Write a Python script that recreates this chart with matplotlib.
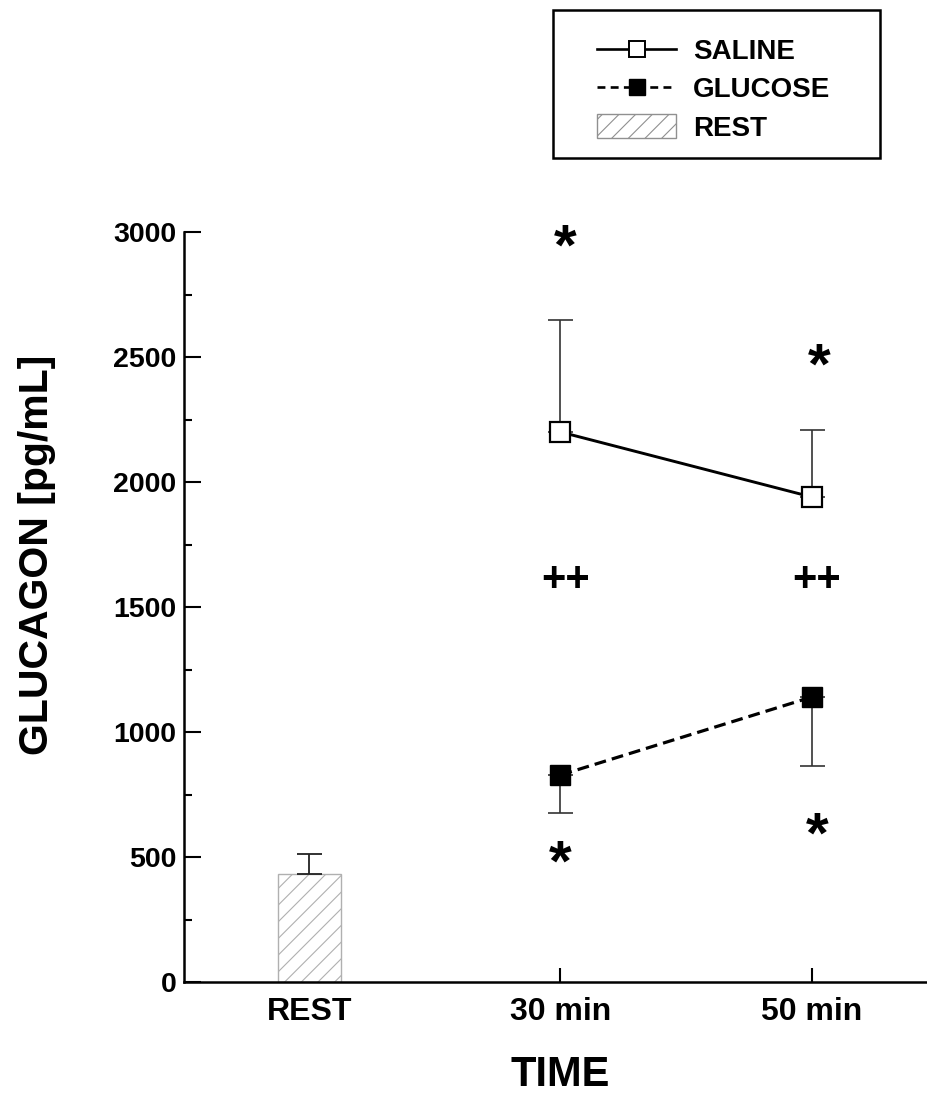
import matplotlib
matplotlib.use("Agg")
import matplotlib.pyplot as plt
from matplotlib.lines import Line2D
from matplotlib.patches import Patch, Rectangle

plt.rcParams["font.family"] = ["Liberation Sans", "DejaVu Sans"]
plt.rcParams["font.weight"] = "bold"
plt.rcParams["hatch.color"] = "#bdbdbd"
plt.rcParams["hatch.linewidth"] = 0.8

# data
time_labels = ["REST", "30 min", "50 min"]
rest_mean = 432
rest_err = 80
saline_mean = [2200, 1940]
saline_err_up = [450, 270]
glucose_mean = [828, 1140]
glucose_err_down = [152, 276]

# significance marks: (x index, y value, text)
marks_x = [1.02, 2.03, 1.02, 2.02, 1.0, 2.02]
marks_y = [2930, 2455, 1610, 1610, 467, 577]
marks_txt = ["*", "*", "++", "++", "*", "*"]

W, H = 927, 1095
fig = plt.figure(figsize=(W / 100, H / 100), dpi=100)
ax = fig.add_axes([183.5 / W, 113 / H, 754 / W, 750 / H])

x_rest = 0
x_ex = [1, 2]

ax.bar(x_rest, rest_mean, width=0.25, color="white", edgecolor="#b0b0b0",
       linewidth=1.0, hatch="//", zorder=2)
ax.errorbar(x_rest, rest_mean, yerr=[[0], [rest_err]], fmt="none",
            ecolor="#222222", elinewidth=1.3, capsize=9, capthick=1.3, zorder=3)

ax.errorbar(x_ex, saline_mean, yerr=[[0, 0], saline_err_up], fmt="none",
            ecolor="#333333", elinewidth=1.2, capsize=9, capthick=1.2, zorder=3)
ax.errorbar(x_ex, glucose_mean, yerr=[glucose_err_down, [0, 0]], fmt="none",
            ecolor="#333333", elinewidth=1.2, capsize=9, capthick=1.2, zorder=3)

ax.plot(x_ex, saline_mean, color="black", linewidth=2.1, marker="s",
        markersize=14, markerfacecolor="white", markeredgecolor="black",
        markeredgewidth=1.6, zorder=4)
ax.plot(x_ex, glucose_mean, color="black", linewidth=2.3,
        linestyle=(0, (3.7, 1.9)), marker="s", markersize=14,
        markerfacecolor="black", markeredgecolor="black", zorder=4)

for mx, my, mt in zip(marks_x, marks_y, marks_txt):
    fs = 42 if mt == "*" else 30
    ax.text(mx, my, mt, ha="center", va="center", fontsize=fs,
            fontweight="bold", zorder=5)

ax.set_xlim(-0.5, 2.5)
ax.set_ylim(0, 3000)
ax.set_yticks([0, 500, 1000, 1500, 2000, 2500, 3000])
ax.set_yticks(range(250, 3000, 500), minor=True)
ax.set_xticks([0, 1, 2])
ax.set_xticklabels(time_labels)

ax.spines["top"].set_visible(False)
ax.spines["right"].set_visible(False)
ax.spines["left"].set_linewidth(1.8)
ax.spines["bottom"].set_linewidth(1.8)

ax.tick_params(axis="y", which="major", direction="in", length=12, width=1.5,
               labelsize=20.5, pad=5)
ax.tick_params(axis="y", which="minor", direction="in", length=6, width=1.5)
ax.tick_params(axis="x", which="major", direction="in", length=10, width=1.5,
               labelsize=23, pad=11)
for lab in ax.get_xticklabels() + ax.get_yticklabels():
    lab.set_fontweight("bold")

ax.set_xlabel("TIME", fontsize=30, fontweight="bold", labelpad=20)
ax.set_ylabel("GLUCAGON [pg/mL]", fontsize=29.5, fontweight="bold")
ax.yaxis.label.set_va("center")
ax.yaxis.set_label_coords(-0.194, 0.569)

# legend frame drawn by hand so its size matches the original box
fig.patches.append(Rectangle((553 / W, 1 - 158 / H), 327 / W, 148 / H,
                             transform=fig.transFigure, facecolor="white",
                             edgecolor="black", linewidth=1.8, zorder=1))

handles = [
    Line2D([], [], color="black", linewidth=1.9, marker="s", markersize=11,
           markerfacecolor="white", markeredgecolor="black", markeredgewidth=1.4),
    Line2D([], [], color="black", linewidth=1.9, linestyle=(0, (3, 2)),
           marker="s", markersize=11, markerfacecolor="black"),
    Patch(facecolor="white", edgecolor="#909090", hatch="//", linewidth=1.0),
]
leg = fig.legend(handles, ["SALINE", "GLUCOSE", "REST"],
                 loc="upper left", bbox_to_anchor=(597 / W, 1 - 38 / H),
                 bbox_transform=fig.transFigure, borderaxespad=0,
                 prop={"size": 20, "weight": "bold"}, handlelength=2.85,
                 handleheight=0.9, handletextpad=0.6, labelspacing=0.4,
                 borderpad=0, frameon=False)

fig.savefig("out.png", dpi=100)
